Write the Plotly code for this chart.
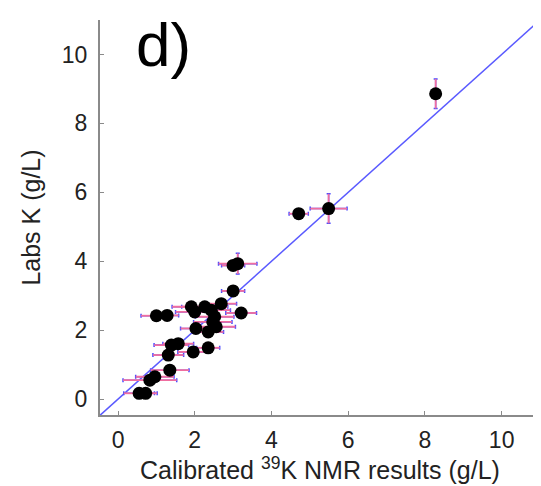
import plotly.graph_objects as go

# Calibrated 39K NMR results (g/L)
nmr_x = [0.55, 0.72, 0.83, 0.96, 1.35, 1.31, 1.39, 1.57, 1.96, 2.35,
         1.00, 1.28, 1.91, 2.00, 2.03, 2.26, 2.43, 2.52, 2.35, 2.56,
         2.47, 2.69, 3.21, 3.00, 3.12, 3.00, 4.71, 5.49, 8.28]
# Labs K (g/L)
labs_y = [0.17, 0.17, 0.55, 0.65, 0.84, 1.28, 1.57, 1.61, 1.37, 1.49,
          2.42, 2.43, 2.68, 2.53, 2.05, 2.68, 2.58, 2.39, 1.95, 2.10,
          2.24, 2.77, 2.50, 3.14, 3.93, 3.88, 5.38, 5.53, 8.86]
x_err = [0.40, 0.30, 0.70, 0.50, 0.50, 0.40, 0.45, 0.40, 0.40, 0.30,
         0.40, 0.30, 0.50, 0.50, 0.40, 0.60, 0.50, 0.50, 0.40, 0.50,
         0.50, 0.40, 0.40, 0.30, 0.50, 0.30, 0.25, 0.48, 0.00]
y_err = [0.05, 0.05, 0.08, 0.10, 0.15, 0.10, 0.10, 0.10, 0.08, 0.06,
         0.08, 0.08, 0.10, 0.10, 0.10, 0.10, 0.10, 0.10, 0.10, 0.10,
         0.10, 0.10, 0.10, 0.15, 0.30, 0.10, 0.12, 0.43, 0.43]
identity = [-0.5, 11.0]
tick_vals = [0, 2, 4, 6, 8, 10]

fig = go.Figure()

fig.add_trace(go.Scatter(
    x=identity, y=identity, mode="lines",
    line=dict(color="#5a5aff", width=1.5), hoverinfo="skip", showlegend=False))

# blue caps
fig.add_trace(go.Scatter(
    x=nmr_x, y=labs_y, mode="markers", marker=dict(size=1, color="rgba(0,0,0,0)"),
    error_x=dict(type="data", array=x_err, color="#4a4aff", thickness=1.5, width=2),
    error_y=dict(type="data", array=y_err, color="#4a4aff", thickness=1.5, width=2),
    showlegend=False))
# pink stems
fig.add_trace(go.Scatter(
    x=nmr_x, y=labs_y, mode="markers",
    marker=dict(size=13, color="black"),
    error_x=dict(type="data", array=x_err, color="#f06ea0", thickness=1.8, width=0),
    error_y=dict(type="data", array=y_err, color="#f06ea0", thickness=1.8, width=0),
    showlegend=False))

fig.add_annotation(text="d)", xref="paper", yref="paper", x=0.078, y=1.03,
                   xanchor="left", yanchor="top", showarrow=False,
                   font=dict(size=62, color="black", family="Liberation Sans, Arial"))

axis_common = dict(
    showgrid=False, zeroline=False, showline=True, linecolor="#8a8a8a", linewidth=2,
    ticks="inside", ticklen=4, tickcolor="#8a8a8a", tickwidth=1,
    tickvals=tick_vals, tickfont=dict(size=23, color="#222"),
)
fig.update_xaxes(range=[-0.47, 11.0],
                 title=dict(text="Calibrated <sup>39</sup>K NMR results (g/L)",
                            font=dict(size=25, color="#222"), standoff=7),
                 ticklabelstandoff=3,
                 **axis_common)
fig.update_yaxes(range=[-0.46, 11.0],
                 title=dict(text="Labs K (g/L)", font=dict(size=25, color="#222"), standoff=14),
                 ticklabelstandoff=6,
                 **axis_common)

fig.update_layout(
    width=533, height=478,
    margin=dict(l=92, r=1, t=12, b=71),
    plot_bgcolor="white", paper_bgcolor="white",
    font=dict(family="Liberation Sans, Arial, sans-serif"),
    showlegend=False,
)

fig.write_html("out.html")
